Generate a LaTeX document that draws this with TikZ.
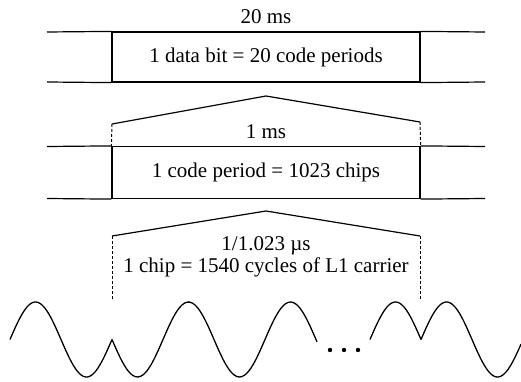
\documentclass[tikz,border=0pt]{standalone}
\usepackage{fontspec}
\setmainfont{Liberation Serif}
\begin{document}
\begin{tikzpicture}[x=1pt,y=-1pt,
  every node/.style={font=\fontsize{21}{25}\selectfont, inner sep=0pt},
  bar/.style={draw, line width=1.2pt, minimum width=308pt, minimum height=50pt},
  ln/.style={line width=1.2pt},
  dsh/.style={line width=1pt, dash pattern=on 3pt off 2pt},
  wave/.style={line width=1.3pt, smooth, samples=80}]
\useasboundingbox (0,0) rectangle (521,382);
% top bar
\node (t20) at (266,17) {20 ms};
\node[bar] (bit) at (266,57) {1 data bit = 20 code periods};
\coordinate (bitTL) at (47,32);
\coordinate (bitBL) at (47,82);
\coordinate (bitTR) at (485,32);
\coordinate (bitBR) at (485,82);
\draw[ln] (bitTL) -- (bit.north west);
\draw[ln] (bitBL) -- (bit.south west);
\draw[ln] (bit.north east) -- (bitTR);
\draw[ln] (bit.south east) -- (bitBR);
% first wedge
\coordinate (a1) at (266,96);
\coordinate (l1) at (112,124);
\coordinate (r1) at (420,122);
\draw[ln] (l1) -- (a1) -- (r1);
\node (t1ms) at (266,132) {1 ms};
% second bar
\node[bar, minimum height=52pt] (code) at (266,172.5) {1 code period = 1023 chips};
\coordinate (codeTL) at (47,146.5);
\coordinate (codeBL) at (47,198.5);
\coordinate (codeTR) at (485,146.5);
\coordinate (codeBR) at (485,198.5);
\draw[ln] (codeTL) -- (code.north west);
\draw[ln] (codeBL) -- (code.south west);
\draw[ln] (code.north east) -- (codeTR);
\draw[ln] (code.south east) -- (codeBR);
\draw[dsh] (l1) -- (code.north west);
\draw[dsh] (r1) -- (code.north east);
% second wedge
\coordinate (a2) at (266,211);
\coordinate (l2) at (112,236);
\coordinate (r2) at (420,236);
\draw[ln] (l2) -- (a2) -- (r2);
\node (tus) at (266,246) {1/1.023 µs};
\node (tchip) at (266,267) {1 chip = 1540 cycles of L1 carrier};
\coordinate (l2e) at (112,300);
\coordinate (r2e) at (420,300);
\draw[dsh] (l2) -- (l2e);
\draw[dsh] (r2) -- (r2e);
% carrier wave
\draw[wave] plot[domain=10:112] (\x,{339.5-37.5*sin(3.529412*(\x-112))});
\draw[wave] plot[domain=112:317] (\x,{339.5+37.5*sin(3.529412*(\x-112))});
\draw[wave] plot[domain=370:421] (\x,{339.5-37.5*sin(3.529412*(\x-370))});
\draw[wave] plot[domain=421:521] (\x,{339.5-37.5*sin(3.529412*(\x-421))});
% dots
\fill (330,350) circle (2.2);
\fill (344,350) circle (2.2);
\fill (358,350) circle (2.2);
\end{tikzpicture}
\end{document}
